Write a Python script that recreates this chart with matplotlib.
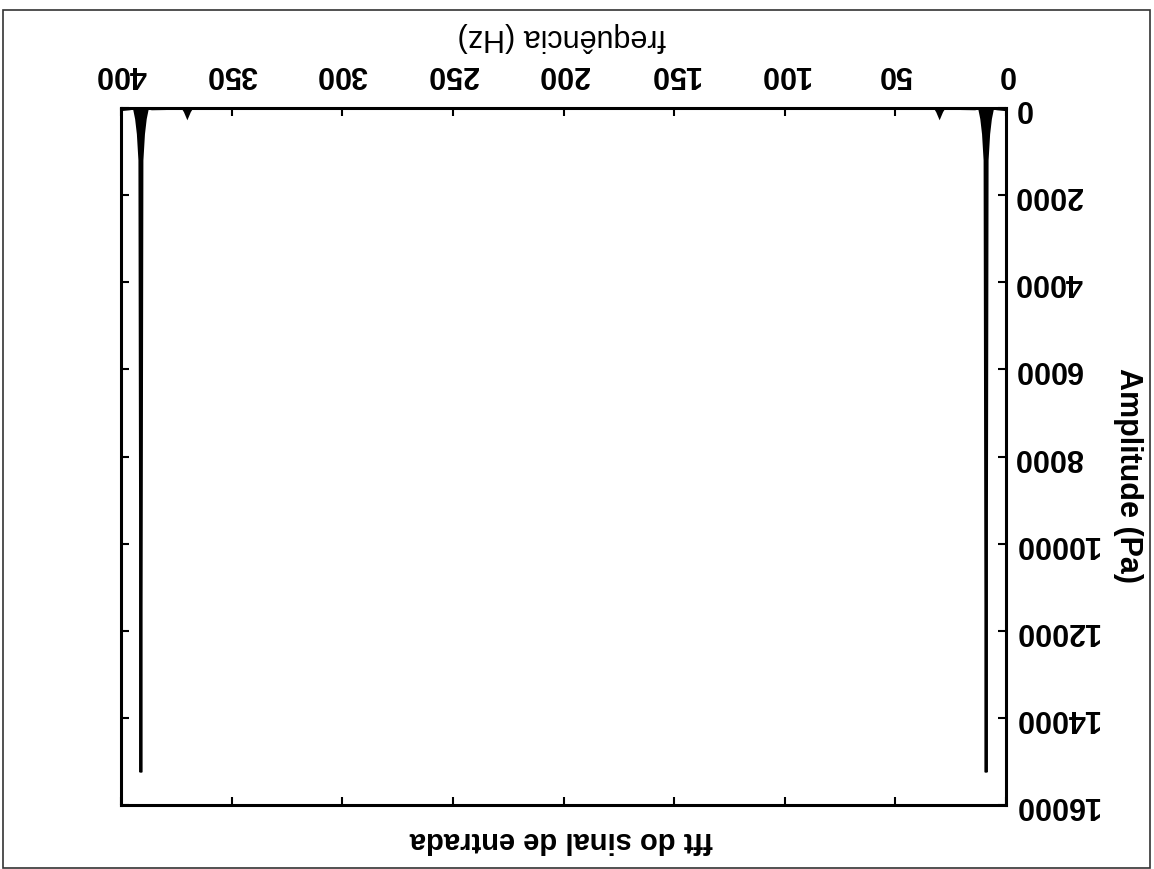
import matplotlib
matplotlib.use("Agg")
import matplotlib.pyplot as plt
from matplotlib.patches import Rectangle

plt.rcParams['font.family'] = ['Liberation Sans', 'DejaVu Sans']

# FFT of the input signal (spectrum is symmetric around 200 Hz)
freq = [0, 2, 4, 6.0, 7.0, 7.8, 8.5, 9.0, 9.5, 10.2, 11.0, 12.0, 14, 20,
        28, 29, 30, 31, 32, 40, 100, 200, 300, 360,
        368, 369, 370, 371, 372, 380, 386,
        388.0, 389.0, 389.8, 390.5, 391.0, 391.5, 392.2, 393.0, 394.0, 396, 398, 400]
amplitude = [40, 30, 20, 0, 250, 600, 1200, 15250, 1200, 600, 250, 0, 20, 15,
             0, 80, 200, 80, 0, 10, 5, 5, 5, 10,
             0, 80, 200, 80, 0, 15, 20,
             0, 250, 600, 1200, 15250, 1200, 600, 250, 0, 20, 30, 40]

x_ticks = [0, 50, 100, 150, 200, 250, 300, 350, 400]
y_ticks = [0, 2000, 4000, 6000, 8000, 10000, 12000, 14000, 16000]

title_text = "fft do sinal de entrada"
x_label = "frequência (Hz)"
y_label = "Amplitude (Pa)"

W, H = 1154, 869
fig = plt.figure(figsize=(W / 100, H / 100), dpi=100)
ax = fig.add_axes([121 / W, 1 - 805 / H, (1006 - 121) / W, (805 - 108) / H])

ax.fill_between(freq, amplitude, 0, color='black', linewidth=0)
ax.plot(freq, amplitude, color='black', linewidth=2.0, solid_joinstyle='miter')

# the whole chart is shown rotated by 180 degrees
ax.set_xlim(400, 0)
ax.set_ylim(16000, 0)
ax.set_xticks(x_ticks)
ax.set_yticks(y_ticks)
ax.set_xticklabels([str(t) for t in x_ticks])
ax.set_yticklabels([str(t) for t in y_ticks])

ax.tick_params(axis='both', which='both', direction='in', length=6, width=1.5,
               top=True, bottom=True, left=True, right=True,
               labeltop=True, labelbottom=False, labelright=True, labelleft=False,
               labelsize=22, labelcolor='black')
ax.tick_params(axis='x', pad=14)
ax.tick_params(axis='y', pad=6)
for lab in ax.get_xticklabels() + ax.get_yticklabels():
    lab.set_rotation(180)
    lab.set_fontweight('bold')
for lab in ax.get_yticklabels():
    lab.set_horizontalalignment('left')
    lab.set_verticalalignment('center')
for lab in ax.get_xticklabels():
    lab.set_horizontalalignment('center')
    lab.set_verticalalignment('bottom')

for sp in ax.spines.values():
    sp.set_linewidth(2.2)
    sp.set_color('black')

fig.text(562 / W, 1 - 37 / H, x_label, rotation=180, ha='center', va='center',
         fontsize=22)
fig.text(1128 / W, 1 - 475 / H, y_label, rotation=270, ha='center', va='center',
         fontsize=22, fontweight='bold')
fig.text(561 / W, 1 - 840 / H, title_text, rotation=180, ha='center', va='center',
         fontsize=21, fontweight='bold')

fig.patches.append(Rectangle((3 / W, 1 / H), (1150 - 3) / W, (868 - 10) / H,
                             transform=fig.transFigure, fill=False,
                             edgecolor='#333333', linewidth=1.2))

fig.savefig("out.png", dpi=100)
